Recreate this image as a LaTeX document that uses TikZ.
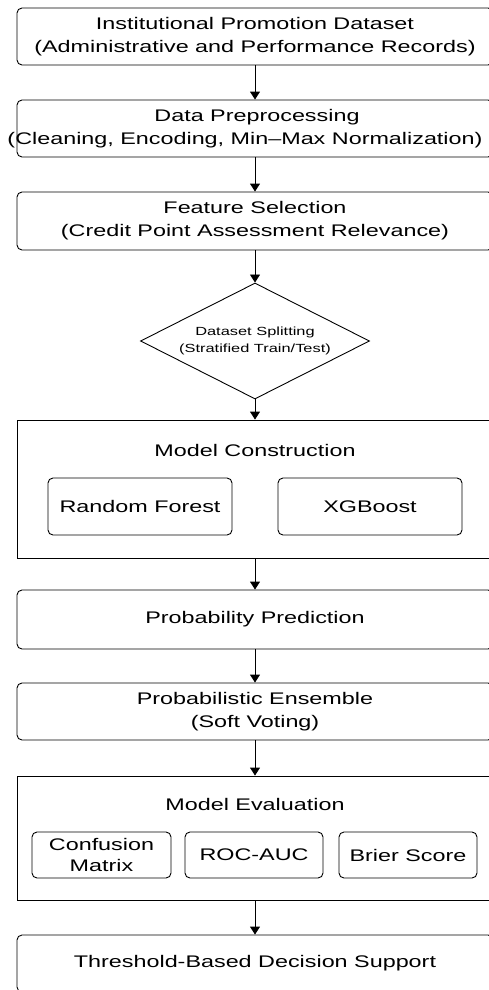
\documentclass[tikz,border=0pt]{standalone}
\usepackage{fontspec}
\setmainfont{Liberation Sans}[FakeStretch=1.39]
\usetikzlibrary{shapes.geometric,arrows.meta}

\begin{document}
\begin{tikzpicture}[x=1pt,y=1pt,
    box/.style={draw, rounded corners=5pt, line width=0.9pt, minimum width=476pt, minimum height=57pt, inner sep=0pt, align=center, font=\fontsize{16.8}{23}\selectfont},
    sub/.style={box, minimum height=57pt},
    frame/.style={draw, line width=0.9pt, minimum width=476pt, inner sep=0pt},
    title/.style={font=\fontsize{16.8}{23}\selectfont},
    flow/.style={-{Triangle[length=8pt,width=10pt]}, line width=0.9pt}]
        \useasboundingbox (0,0) rectangle (488,-990);

        \node[box] (data) at (255,-36.5) {Institutional Promotion Dataset\\(Administrative and Performance Records)};
        \node[box] (prep) at (255,-128.5) {\hspace*{4pt}Data Preprocessing\\\hspace*{-20pt}(Cleaning, Encoding, Min--Max Normalization)};
        \node[box, minimum height=58pt] (feat) at (255,-221) {Feature Selection\\(Credit Point Assessment Relevance)};
        \node[draw, diamond, aspect=2, line width=0.9pt, minimum width=229pt, minimum height=116pt, inner sep=1pt, align=center, font=\fontsize{11.8}{17}\selectfont] (split) at (255,-341) {Dataset Splitting\\(Stratified Train/Test)};

        \node[frame, minimum height=138pt] (construct) at (255,-489) {};
        \node[title] (constructtitle) at (255,-450) {Model Construction};
        \node[sub, minimum width=184pt] (rf) at (140,-506.5) {Random Forest};
        \node[sub, minimum width=184pt] (xgb) at (370,-506.5) {XGBoost};

        \node[box, minimum height=59pt] (predict) at (255,-619.5) {Probability Prediction};
        \node[box] (ensemble) at (255,-711.5) {Probabilistic Ensemble\\(Soft Voting)};

        \node[frame, minimum height=124pt] (evaluate) at (255,-838) {};
        \node[title] (evaluatetitle) at (255,-804) {Model Evaluation};
        \node[sub, minimum width=139pt, minimum height=46pt] (cm) at (101.5,-855) {Confusion\\[-2pt]Matrix};
        \node[sub, minimum width=138pt, minimum height=46pt] (roc) at (254,-855) {ROC-AUC};
        \node[sub, minimum width=138pt, minimum height=46pt] (brier) at (408,-855) {Brier Score};

        \node[box] (decision) at (255,-963.5) {Threshold-Based Decision Support};

        \draw[flow] (data) -- (prep);
        \draw[flow] (prep) -- (feat);
        \draw[flow] (feat) -- (split);
        \draw[flow] (split) -- (construct);
        \draw[flow] (construct) -- (predict);
        \draw[flow] (predict) -- (ensemble);
        \draw[flow] (ensemble) -- (evaluate);
        \draw[flow] (evaluate) -- (decision);
    \end{tikzpicture}
\end{document}
